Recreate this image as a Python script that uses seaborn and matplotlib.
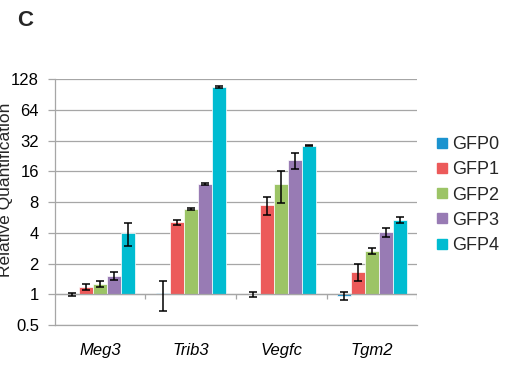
import numpy as np
import pandas as pd
import matplotlib.pyplot as plt
import seaborn as sns
from matplotlib.lines import Line2D

# Data (relative quantification, log2 axis)
genes = ['Meg3', 'Trib3', 'Vegfc', 'Tgm2']
groups = ['GFP0', 'GFP1', 'GFP2', 'GFP3', 'GFP4']

gfp0 = [1.0, 1.02, 1.0, 0.97]
gfp1 = [1.18, 5.05, 7.45, 1.67]
gfp2 = [1.26, 6.9, 12.0, 2.66]
gfp3 = [1.52, 12.0, 20.6, 4.03]
gfp4 = [4.0, 107.6, 28.6, 5.35]

err0 = [0.03, 0.33, 0.05, 0.09]
err1 = [0.09, 0.3, 1.5, 0.31]
err2 = [0.085, 0.15, 4.2, 0.2]
err3 = [0.13, 0.35, 3.7, 0.43]
err4 = [1.0, 1.8, 0.6, 0.35]

y_ticks = [0.5, 1, 2, 4, 8, 16, 32, 64, 128]

values = [gfp0, gfp1, gfp2, gfp3, gfp4]
errors = [err0, err1, err2, err3, err4]
colors = ['#1B93CF', '#EC5A5A', '#9CC466', '#987BB4', '#00BCD1']
grey = '#A6A6A6'

sns.set_theme(style="white")
plt.rcParams['font.family'] = ['Liberation Sans', 'DejaVu Sans']

# long table, bars drawn in log2 space so they rise from 1
rows = []
for g, vals in zip(groups, values):
    for gene, v in zip(genes, vals):
        rows.append({'gene': gene, 'group': g, 'log2': np.log2(v)})
df = pd.DataFrame(rows)

fig = plt.figure(figsize=(5.08, 3.66), dpi=100)
ax = fig.add_axes([0.108, 0.112, 0.713, 0.672])

sns.barplot(data=df, x='gene', y='log2', hue='group', order=genes,
            hue_order=groups, palette=colors, saturation=1, width=0.77,
            errorbar=None, edgecolor='white', linewidth=0.5, legend=False,
            ax=ax)

# error bars (symmetric in linear units -> asymmetric in log2)
for cont, vals, errs in zip(ax.containers, values, errors):
    xs = [p.get_x() + p.get_width() / 2 for p in cont]
    v = np.array(vals)
    e = np.array(errs)
    lo = np.log2(v) - np.log2(v - e)
    hi = np.log2(v + e) - np.log2(v)
    ax.errorbar(xs, np.log2(v), yerr=[lo, hi], fmt='none', ecolor='black',
                elinewidth=1.1, capsize=3, capthick=1.1, zorder=5)

ax.set_xlim(-0.5, 3.5)
ax.set_ylim(-1, 7)
ax.set_yticks(np.log2(y_ticks))
ax.set_yticklabels([f'{t:g}' for t in y_ticks], fontsize=12)
ax.set_xticks(range(len(genes)))
ax.set_xticklabels(genes, fontsize=12, style='italic')
ax.set_xlabel('')
ax.set_ylabel('')

ax.yaxis.grid(True, color=grey, linewidth=0.9)
ax.set_axisbelow(True)
for side in ['top', 'right']:
    ax.spines[side].set_visible(False)
for side in ['left', 'bottom']:
    ax.spines[side].set_color(grey)
    ax.spines[side].set_linewidth(0.9)

# category axis crosses at 1, with boundary ticks
ax.axhline(0, color=grey, linewidth=0.9, zorder=1)
ax.vlines([0.5, 1.5, 2.5, 3.5], -0.17, 0, color=grey, linewidth=0.9)

ax.tick_params(axis='y', length=5, width=0.9, color=grey, pad=6.5,
               left=True, labelcolor='black')
ax.tick_params(axis='x', length=0, pad=13, labelcolor='black')

fig.text(0.025, 0.481, 'Relative Quantification', rotation=90,
         ha='right', va='center', fontsize=12.5)
fig.text(0.033, 0.944, 'C', fontsize=16, fontweight='bold', ha='left', va='center')

handles = [Line2D([], [], marker='s', linestyle='', color=c, markersize=7)
           for c in colors]
fig.legend(handles, groups, loc='center left', bbox_to_anchor=(0.838, 0.467),
           frameon=False, fontsize=13, handlelength=0.8, handletextpad=0.15,
           labelspacing=0.45, borderpad=0)

fig.savefig('out.png', dpi=100)
